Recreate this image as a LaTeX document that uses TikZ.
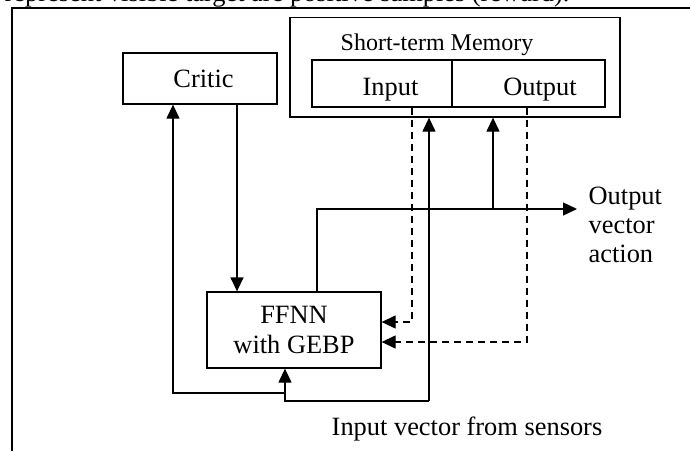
\documentclass[tikz,border=0pt]{standalone}
\usepackage{fontspec}
\setmainfont{Liberation Serif}
\usepackage{tikz}
\usetikzlibrary{arrows.meta}

\begin{document}
\begin{tikzpicture}[x=0.5pt,y=-0.5pt,line width=0.65pt,
        font=\fontsize{13.2}{14.6}\selectfont,
        box/.style={draw,inner sep=0pt,align=center},
        lbl/.style={inner sep=0pt},
        arr/.style={-{Triangle[length=7pt,width=6.5pt]}},
        dsh/.style={dash pattern=on 3.5pt off 2.5pt}]
        \useasboundingbox (0,0) rectangle (690,451);
        \clip (0,0) rectangle (690,451);
        % caption line above, cut off by the frame
        \node[lbl,anchor=base east] (prev) at (570,1) {represent visible target are positive samples (reward).};
        \draw[line width=0.9pt] (12,451) -- (12,8) -- (690,8);

        \node[box,minimum width=77pt,minimum height=25.5pt] (critic) at (200,78.5) {};
        \node[lbl] (crittxt) at (203.5,79) {Critic};
        \node[box,minimum width=165pt,minimum height=49.75pt] (stm) at (455,67.25) {};
        \node[lbl,anchor=base,font=\fontsize{12}{14}\selectfont] (stmtitle) at (437,50) {Short-term Memory};
        \node[box,minimum width=70pt,minimum height=23.5pt] (inbuf) at (382,83.5) {};
        \node[box,minimum width=76.5pt,minimum height=23.5pt] (outbuf) at (528.5,83.5) {};
        \node[lbl,anchor=base] (intxt) at (390.5,95) {Input};
        \node[lbl,anchor=base] (outtxt) at (540,95) {Output};
        \node[box,minimum width=87pt,minimum height=38pt] (ffnn) at (294,330) {FFNN\\with GEBP};
        \node[lbl,anchor=north west,align=left] (outvec) at (588,186) {Output\\vector\\action};
        \node[lbl,anchor=base] (invec) at (467,435) {Input vector from sensors};

        % critic to network
        \coordinate (cx) at (237,0);
        \draw[arr] (critic.south -| cx) -- (ffnn.north -| cx);

        % network output
        \coordinate (fo) at (317,209);
        \coordinate (ot) at (577,209);
        \coordinate (om) at (493,209);
        \draw[arr] (fo |- ffnn.north) -- (fo) -- (ot);
        \draw[arr] (om) -- (om |- stm.south);

        % sensor input
        \coordinate (jin) at (285,401);
        \coordinate (jsm) at (429,401);
        \coordinate (jcr) at (285,393);
        \coordinate (lcr) at (173,393);
        \draw[arr] (jsm) -- (jin) -- (jin |- ffnn.south);
        \draw[arr] (jsm) -- (jsm |- stm.south);
        \draw[arr] (jcr) -- (lcr) -- (lcr |- critic.south);

        % memory replay
        \coordinate (d1) at (412,322);
        \coordinate (d2) at (527,342);
        \draw[dsh,arr] (d1 |- inbuf.south) -- (d1) -- (d1 -| ffnn.east);
        \draw[dsh,arr] (d2 |- outbuf.south) -- (d2) -- (d2 -| ffnn.east);
\end{tikzpicture}
\end{document}
